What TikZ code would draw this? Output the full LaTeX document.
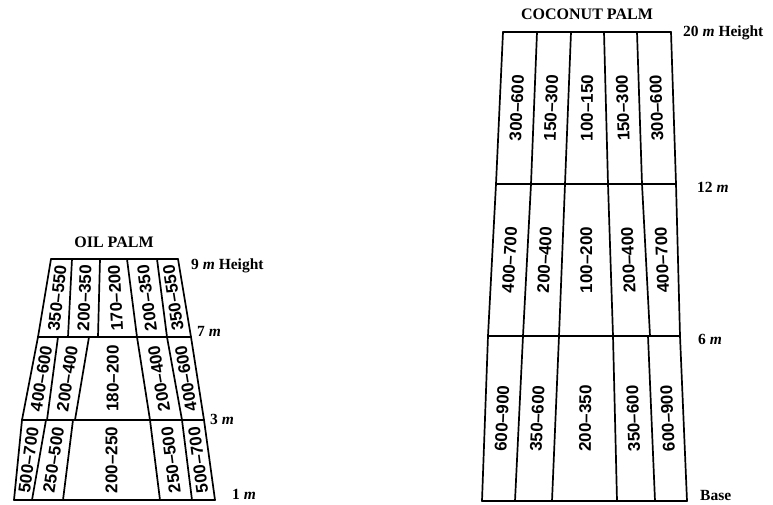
\documentclass[tikz,border=0pt]{standalone}
\usepackage{fontspec}
\setmainfont{Liberation Serif}
\setsansfont{Liberation Sans}
\usetikzlibrary{calc}

% one band of a stem: prefix, top y, bottom y, top x's, bottom x's, values
\newcommand\stemband[6]{%
  \foreach \xx [count=\i] in {#4} {\coordinate (#1t\i) at (\xx,#2);}
  \foreach \xx [count=\i] in {#5} {\coordinate (#1b\i) at (\xx,#3);}
  \draw[grid] (#1t1) -- (#1t6);
  \draw[grid] (#1b1) -- (#1b6);
  \foreach \i in {1,...,6} {\draw[grid] (#1t\i) -- (#1b\i);}
  \foreach \v [count=\i] in {#6} {%
    \pgfmathtruncatemacro\j{\i+1}
    \path ($(#1b\i)!.5!(#1b\j)$) -- node[val] (#1v\i) {\v} ($(#1t\i)!.5!(#1t\j)$);
  }%
}

\begin{document}
\begin{tikzpicture}[x=1pt,y=-1pt,
    grid/.style={line width=1.7pt,line join=round,line cap=round},
    val/.style={font=\sffamily\bfseries\fontsize{17}{17}\selectfont,sloped,allow upside down,inner sep=0pt},
    ttl/.style={font=\bfseries\fontsize{16}{16}\selectfont},
    lvl/.style={font=\bfseries\fontsize{15.5}{15.5}\selectfont,anchor=west,inner sep=0pt}]
  \useasboundingbox (0,0) rectangle (773,505);

  % oil palm
  \node[ttl] (oiltitle) at (114,242) {OIL PALM};
  \stemband{oa}{259}{337}{51,72,100,127,157,178}{38,68,98,137,167,191}
    {350--550,200--350,170--200,200--350,350--550}
  \stemband{ob}{337}{420}{38,58,89,137,167,191}{22,47,75,150,182,204}
    {400--600,200--400,180--200,200--400,400--600}
  \stemband{oc}{420}{500}{22,46,73,150,182,204}{14,32,63,160,192,215}
    {500--700,250--500,200--250,250--500,500--700}
  \node[lvl] (oil9) at (191,266) {9 \textit{m} Height};
  \node[lvl] (oil7) at (197,331) {7 \textit{m}};
  \node[lvl] (oil3) at (210,419) {3 \textit{m}};
  \node[lvl] (oil1) at (232,494) {1 \textit{m}};

  % coconut palm
  \node[ttl] (cocotitle) at (587,14) {COCONUT PALM};
  \stemband{ca}{32}{184}{503,537,571,604,637,671}{496,531,565,608,642,676}
    {300--600,150--300,100--150,150--300,300--600}
  \stemband{cb}{184}{336}{496,531,565,608,642,676}{488,523,559,613,650,680}
    {400--700,200--400,100--200,200--400,400--700}
  \stemband{cc}{336}{501}{488,523,559,613,648,680}{482,515,552,617,655,687}
    {600--900,350--600,200--350,350--600,600--900}
  \node[lvl] (coco20) at (683,33) {20 \textit{m} Height};
  \node[lvl] (coco12) at (697,187) {12 \textit{m}};
  \node[lvl] (coco6) at (698,339) {6 \textit{m}};
  \node[lvl] (cocobase) at (700,495) {Base};
\end{tikzpicture}
\end{document}
